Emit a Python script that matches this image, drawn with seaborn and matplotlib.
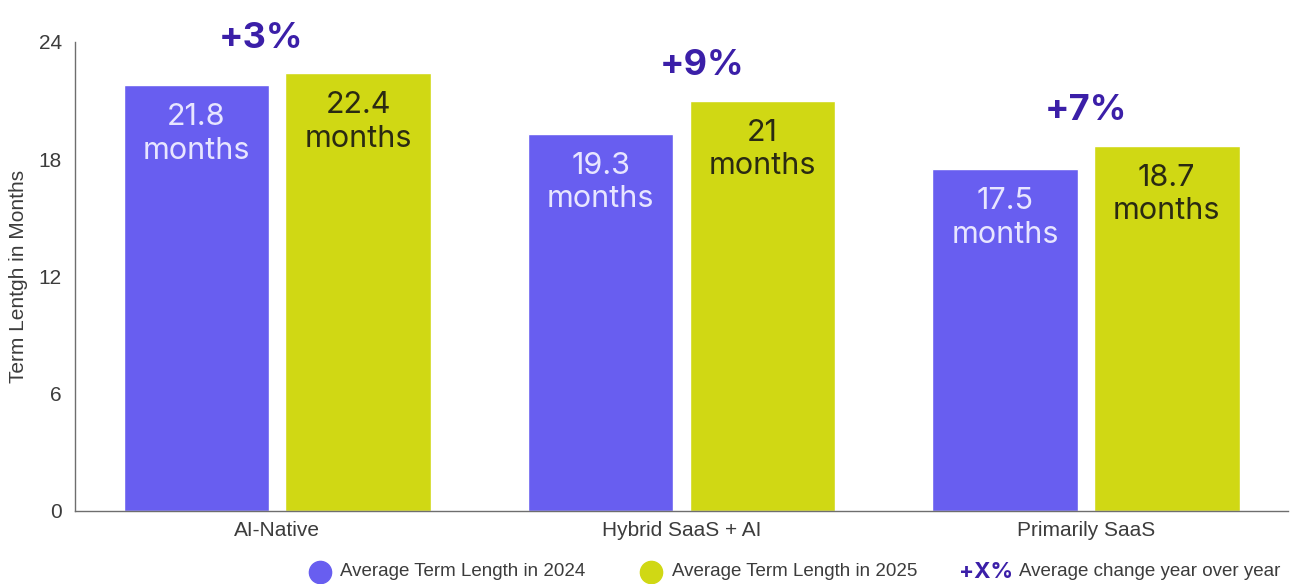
import matplotlib
matplotlib.use("Agg")
import matplotlib.pyplot as plt
from matplotlib.lines import Line2D
import seaborn as sns
import pandas as pd

# Chart data
segments = ["AI-Native", "Hybrid SaaS + AI", "Primarily SaaS"]
term_2024 = [21.8, 19.3, 17.5]
term_2025 = [22.4, 21.0, 18.7]
yoy_change = ["+3%", "+9%", "+7%"]
years = ["2024", "2025"]
y_ticks = [0, 6, 12, 18, 24]

# Horizontal nudges for the change callouts (in category units)
callout_dx = [-0.04, 0.05, 0.0]

BLUE = "#685ef0"
YELLOW = "#d0d814"
PURPLE = "#3b1fa8"
AXIS = "#6e6e6e"
TICK_TXT = "#3c3c3c"

df = pd.DataFrame({
    "segment": segments * 2,
    "year": [years[0]] * 3 + [years[1]] * 3,
    "months": term_2024 + term_2025,
})

sns.set_theme(style="white")
plt.rcParams["font.family"] = ["Liberation Sans", "DejaVu Sans"]

fig = plt.figure(figsize=(13.02, 5.84), dpi=100)
ax = fig.add_axes([0.0576, 0.125, 0.9317, 0.8031])

sns.barplot(data=df, x="segment", y="months", hue="year", order=segments,
            hue_order=years, palette=[BLUE, YELLOW], gap=0.1, width=0.8,
            saturation=1, legend=False, ax=ax)

ax.set_xlim(-0.5, 2.5)
ax.set_ylim(0, 24)
ax.set_yticks(y_ticks)
ax.set_xlabel("")
ax.set_ylabel("Term Lentgh in Months", fontsize=15, color=TICK_TXT)
ax.yaxis.set_label_coords(-0.039, 0.5)

for side in ("top", "right"):
    ax.spines[side].set_visible(False)
for side in ("left", "bottom"):
    ax.spines[side].set_color(AXIS)
    ax.spines[side].set_linewidth(1.0)

ax.tick_params(axis="y", direction="in", length=7, width=1, color=AXIS,
               labelsize=15, labelcolor=TICK_TXT, pad=9.5)
ax.tick_params(axis="x", which="major", length=0, labelsize=15,
               labelcolor=TICK_TXT, pad=7)
ax.set_xticks([0.5, 1.5], minor=True)
ax.tick_params(axis="x", which="minor", direction="in", length=7, width=1,
               color=AXIS)

# Value labels inside each bar
text_colors = ["#e8e6ff", "#2a2a12"]
for container, tcol in zip(ax.containers, text_colors):
    for patch in container:
        h = patch.get_height()
        label = f"{h:g}\nmonths"
        ax.text(patch.get_x() + patch.get_width() / 2, h - 2.5, label,
                ha="center", va="center", fontsize=22, color=tcol,
                family=["Inter", "DejaVu Sans"], linespacing=1.25)

# Year-over-year change above each group
for i, change in enumerate(yoy_change):
    top = max(term_2024[i], term_2025[i])
    ax.text(i + callout_dx[i], top + 1.8, change, ha="center", va="center",
            fontsize=26, fontweight="bold", color=PURPLE,
            family=["Inter", "DejaVu Sans"], clip_on=False)

# Legend row
ly = 1 - 572 / 584
fig.add_artist(Line2D([320 / 1302], [ly], marker="o", markersize=16,
                      color=BLUE, linestyle="none", transform=fig.transFigure))
fig.text(340 / 1302, ly, "Average Term Length in 2024", ha="left", va="center",
         fontsize=13.5, color=TICK_TXT)
fig.add_artist(Line2D([651 / 1302], [ly], marker="o", markersize=16,
                      color=YELLOW, linestyle="none", transform=fig.transFigure))
fig.text(672 / 1302, ly, "Average Term Length in 2025", ha="left", va="center",
         fontsize=13.5, color=TICK_TXT)
fig.text(959 / 1302, ly, "+X%", ha="left", va="center", fontsize=16,
         fontweight="bold", color=PURPLE, family=["Inter", "DejaVu Sans"])
fig.text(1019 / 1302, ly, "Average change year over year", ha="left",
         va="center", fontsize=13.5, color=TICK_TXT)

fig.savefig("out.png", dpi=100)
